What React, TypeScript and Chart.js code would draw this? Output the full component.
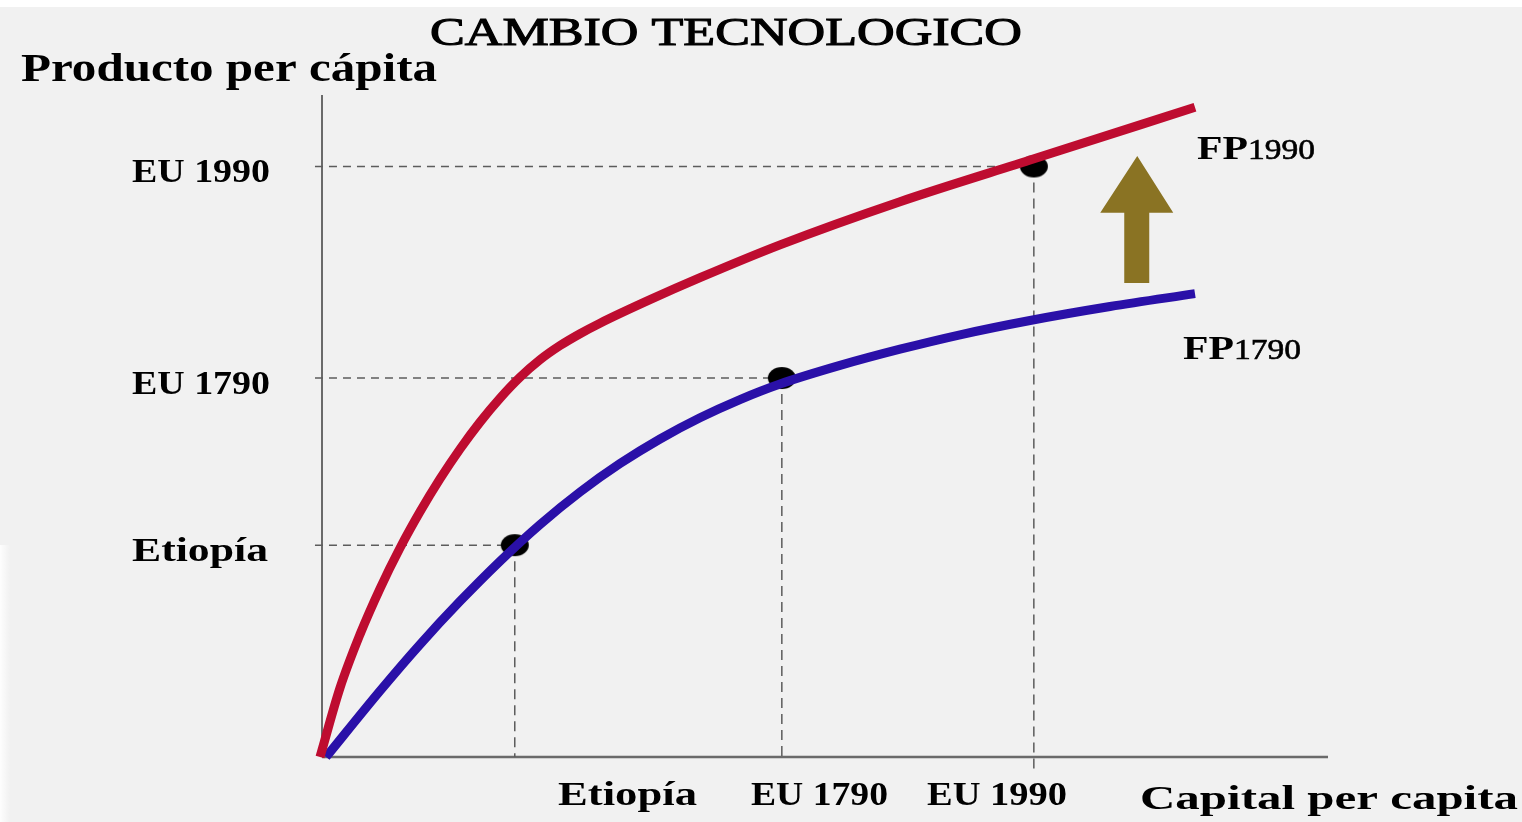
import React, { useEffect, useRef } from 'react';
import { Chart, registerables } from 'chart.js';

Chart.register(...registerables);

// ---- data (axis units: 0..100 on both axes) ----
const RED_X = [-0.2, 1.79, 3.78, 5.78, 7.77, 9.76, 11.75, 13.75, 15.74, 17.73, 19.72, 21.71, 23.71, 25.7, 27.69, 32.67, 37.65, 45.62, 57.57, 70.92, 86.95];
const RED_Y = [0, 10.42, 18.5, 25.45, 31.57, 37.04, 42.01, 46.53, 50.59, 54.2, 57.36, 60.0, 62.15, 63.94, 65.53, 69.08, 72.4, 77.36, 83.88, 90.36, 98.14];

const BLUE_X = [0.4, 5.78, 9.76, 13.75, 17.73, 21.71, 25.7, 29.68, 33.67, 37.65, 41.63, 45.62, 51.59, 57.57, 63.55, 70.52, 78.49, 86.95];
const BLUE_Y = [0, 10.0, 17.01, 23.53, 29.58, 35.11, 40.03, 44.32, 48.04, 51.24, 53.99, 56.34, 59.15, 61.6, 63.78, 65.94, 68.05, 69.99];

const MARK_LABELS = ['Etiopía', 'EU 1790', 'EU 1990'];
const MARK_X = [19.2, 45.8, 70.9];
const MARK_Y = [32.0, 57.25, 89.2];
const MARK_DROP_END = [0, 0, -2.4];
const DASH_START_X = -0.7;

const CURVE_NAMES = ['FP', 'FP'];
const CURVE_YEARS = ['1990', '1790'];

const ARROW_X = 81.2;
const ARROW_FROM = 71.6;
const ARROW_TO = 90.8;
const ARROW_HEAD_BASE = 82.2;

const TITLE = 'CAMBIO TECNOLOGICO';
const Y_TITLE = 'Producto per cápita';
const X_TITLE = 'Capital per capita';

const RED = '#BE0C30';
const BLUE = '#2A10A8';
const DASH = '#5c5c5c';
const AXIS = '#6a6a6a';
const ARROW_COLOR = '#8A7323';
const FONT = '"Liberation Serif", "Times New Roman", serif';

function zip(xs: number[], ys: number[]) {
  return xs.map((x, i) => ({ x, y: ys[i] }));
}

function drawFit(
  ctx: CanvasRenderingContext2D,
  text: string,
  x: number,
  baseline: number,
  size: number,
  weight: string,
  width: number,
  stroke = 0
) {
  ctx.save();
  ctx.font = `${weight} ${size}px ${FONT}`;
  ctx.textAlign = 'left';
  ctx.textBaseline = 'alphabetic';
  ctx.fillStyle = '#000';
  const w = ctx.measureText(text).width;
  ctx.translate(x, baseline);
  ctx.scale(width / w, 1);
  ctx.fillText(text, 0, 0);
  if (stroke > 0) {
    ctx.strokeStyle = '#000';
    ctx.lineWidth = stroke;
    ctx.strokeText(text, 0, 0);
  }
  ctx.restore();
}

function makeDot() {
  const c = document.createElement('canvas');
  c.width = 30;
  c.height = 24;
  const g = c.getContext('2d')!;
  g.fillStyle = '#000';
  g.beginPath();
  g.ellipse(15, 12, 14, 11, 0, 0, Math.PI * 2);
  g.fill();
  return c;
}

const decorPlugin = {
  id: 'decor',
  beforeDraw(chart: any) {
    const ctx = chart.ctx as CanvasRenderingContext2D;
    ctx.save();
    ctx.fillStyle = '#f1f1f1';
    ctx.fillRect(0, 0, chart.width, chart.height);
    ctx.fillStyle = '#ffffff';
    ctx.fillRect(0, 0, chart.width, 7);
    const g = ctx.createLinearGradient(0, 0, 10, 0);
    g.addColorStop(0, 'rgba(255,255,255,0.9)');
    g.addColorStop(1, 'rgba(255,255,255,0)');
    ctx.fillStyle = g;
    ctx.fillRect(0, 545, 10, chart.height - 545);
    ctx.restore();
  },
  afterDatasetsDraw(chart: any) {
    const ctx = chart.ctx as CanvasRenderingContext2D;
    const xs = chart.scales.x;
    const ys = chart.scales.y;

    // arrow
    const ax = xs.getPixelForValue(ARROW_X);
    const aTop = ys.getPixelForValue(ARROW_TO);
    const aBase = ys.getPixelForValue(ARROW_HEAD_BASE);
    const aBottom = ys.getPixelForValue(ARROW_FROM);
    ctx.save();
    ctx.fillStyle = ARROW_COLOR;
    ctx.beginPath();
    ctx.moveTo(ax, aTop);
    ctx.lineTo(ax + 36, aBase);
    ctx.lineTo(ax + 12, aBase);
    ctx.lineTo(ax + 12, aBottom);
    ctx.lineTo(ax - 13, aBottom);
    ctx.lineTo(ax - 13, aBase);
    ctx.lineTo(ax - 37, aBase);
    ctx.closePath();
    ctx.fill();
    ctx.restore();

    // titles
    drawFit(ctx, TITLE, 430, 45, 40, 'normal', 592, 1.1);
    drawFit(ctx, Y_TITLE, 21, 81, 39, 'bold', 416);
    drawFit(ctx, X_TITLE, 1140, 809, 33, 'bold', 378);

    // y-axis labels
    MARK_LABELS.forEach((t, i) => {
      const py = ys.getPixelForValue(MARK_Y[i]);
      drawFit(ctx, t, 132, py + 16, 33, 'bold', i === 0 ? 136 : 138);
    });

    // x-axis labels
    const xBoxes = [
      [558, 139],
      [751, 137],
      [927, 140],
    ];
    MARK_LABELS.forEach((t, i) => {
      drawFit(ctx, t, xBoxes[i][0], 805, 33, 'bold', xBoxes[i][1]);
    });

    // curve labels
    const curveBoxes = [
      [1197, 159],
      [1183, 359],
    ];
    CURVE_NAMES.forEach((n, i) => {
      const [x, b] = curveBoxes[i];
      drawFit(ctx, n, x, b, 33, 'bold', 51);
      drawFit(ctx, CURVE_YEARS[i], x + 51, b, 29, 'normal', 67, 0.6);
    });
  },
};

export default function App() {
  const ref = useRef<HTMLCanvasElement | null>(null);

  useEffect(() => {
    if (!ref.current) return;
    const dot = makeDot();

    const dashed = (pts: { x: number; y: number }[], dash: number[]) => ({
      data: pts,
      showLine: true,
      borderColor: DASH,
      borderWidth: 1.5,
      borderDash: dash,
      pointRadius: 0,
      clip: false,
    });

    const hLines = MARK_X.map((x, i) =>
      dashed(
        [
          { x: DASH_START_X, y: MARK_Y[i] },
          { x, y: MARK_Y[i] },
        ],
        [8, 6]
      )
    );
    const vLines = MARK_X.map((x, i) =>
      dashed(
        [
          { x, y: MARK_Y[i] },
          { x, y: MARK_DROP_END[i] },
        ],
        [10, 6]
      )
    );

    const chart = new Chart(ref.current, {
      type: 'scatter',
      data: {
        datasets: [
          {
            label: 'FP1990',
            data: zip(RED_X, RED_Y),
            showLine: true,
            borderColor: RED,
            borderWidth: 9,
            pointRadius: 0,
            cubicInterpolationMode: 'monotone',
            borderCapStyle: 'butt',
            borderJoinStyle: 'round',
            clip: false,
          },
          {
            label: 'FP1790',
            data: zip(BLUE_X, BLUE_Y),
            showLine: true,
            borderColor: BLUE,
            borderWidth: 9,
            pointRadius: 0,
            cubicInterpolationMode: 'monotone',
            borderCapStyle: 'butt',
            borderJoinStyle: 'round',
            clip: false,
          },
          {
            label: 'points',
            data: zip(MARK_X, MARK_Y),
            showLine: false,
            pointStyle: dot,
            pointRadius: 12,
            clip: false,
          },
          ...hLines,
          ...vLines,
          {
            label: 'yaxis',
            data: [
              { x: 0, y: 0 },
              { x: 0, y: 100 },
            ],
            showLine: true,
            borderColor: AXIS,
            borderWidth: 2,
            pointRadius: 0,
            clip: false,
          },
          {
            label: 'xaxis',
            data: [
              { x: 0, y: 0 },
              { x: 100.2, y: 0 },
            ],
            showLine: true,
            borderColor: AXIS,
            borderWidth: 2.5,
            pointRadius: 0,
            clip: false,
          },
        ] as any,
      },
      options: {
        animation: false,
        responsive: false,
        devicePixelRatio: 1,
        layout: { padding: { left: 322, right: 196, top: 95, bottom: 65 } },
        scales: {
          x: { type: 'linear', min: 0, max: 100, display: false },
          y: { type: 'linear', min: 0, max: 100, display: false },
        },
        plugins: {
          legend: { display: false },
          tooltip: { enabled: false },
          title: { display: false },
        },
        events: [],
      } as any,
      plugins: [decorPlugin],
    });
    return () => chart.destroy();
  }, []);

  return (
    <div style={{ position: 'fixed', left: 0, top: 0, width: 1522, height: 822 }}>
      <canvas ref={ref} width={1522} height={822} style={{ display: 'block' }} />
    </div>
  );
}
